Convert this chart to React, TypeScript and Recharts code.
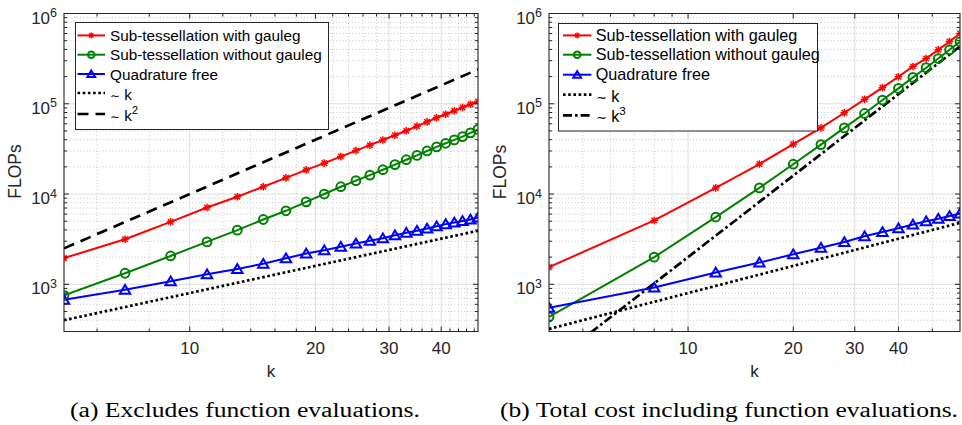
import React from 'react';
import { LineChart, Line, XAxis, YAxis, CartesianGrid, ReferenceArea } from 'recharts';

// ---------------- data: panel (a) ----------------
const kA = [5, 7, 9, 11, 13, 15, 17, 19, 21, 23, 25, 27, 29, 31, 33, 35, 37, 39, 41, 43, 45, 47, 49];
const withGaulegA = [1950, 3160, 4920, 7100, 9330, 12050, 15100, 18500, 22000, 26000, 30300, 34800, 39700, 44800, 50200, 56500, 63000, 70000, 76500, 83500, 91000, 99000, 106000];
const withoutGaulegA = [755, 1325, 2060, 2950, 3980, 5220, 6520, 8200, 10000, 12050, 14060, 16200, 18600, 21200, 24000, 26800, 30000, 33300, 36500, 39800, 43300, 47600, 52000];
const quadFreeA = [675, 871, 1080, 1290, 1480, 1690, 1945, 2190, 2390, 2600, 2830, 3030, 3240, 3500, 3720, 3910, 4150, 4400, 4640, 4830, 5040, 5220, 5500];
const refKA = [5, 49];
const linRefA = [400, 3920];
const quadRefA = [2500, 240000];

// ---------------- data: panel (b) ----------------
const kB = [4, 8, 12, 16, 20, 24, 28, 32, 36, 40, 44, 48, 52, 56, 60];
const withGaulegB = [1550, 5100, 11700, 21500, 35700, 54000, 79500, 112000, 151000, 199000, 259000, 317000, 396000, 490000, 600000];
const withoutGaulegB = [435, 2000, 5560, 11700, 21400, 35300, 54000, 78000, 110000, 148000, 196000, 251000, 317000, 396000, 486000];
const quadFreeB = [550, 920, 1350, 1740, 2150, 2540, 2940, 3400, 3800, 4170, 4600, 4990, 5330, 5710, 6100];
const refKB = [4, 60];
const linRefB = [320, 4800];
const cubRefB = [128, 432000];

// ---------------- ticks / labels ----------------
const xDomainA = [5, 49];
const xDomainB = [4, 60];
const yDomain = [300, 1000000];
const xMajor = [10, 20, 30, 40];
const xMinorA = [6, 8, 12, 14, 16, 18, 22, 24, 26, 28, 32, 34, 36, 38, 42, 44, 46, 48];
const xMinorB = [5, 6, 7, 8, 9, 50];
const yMajorGrid = [1000, 10000, 100000];
const yMajorTicks = [1000, 10000, 100000, 1000000];
const yMinor = [400, 500, 600, 700, 800, 900, 2000, 3000, 4000, 5000, 6000, 7000, 8000, 9000,
  20000, 30000, 40000, 50000, 60000, 70000, 80000, 90000, 200000, 300000, 400000, 500000, 600000, 700000, 800000, 900000];
const seriesNames = ['Sub-tessellation with gauleg', 'Sub-tessellation without gauleg', 'Quadrature free'];
const captionA = '(a)  Excludes function evaluations.';
const captionB = '(b)  Total cost including function evaluations.';

const FONT = '"Liberation Sans", Arial, Helvetica, sans-serif';
const SERIF = '"Liberation Serif", "Times New Roman", serif';
const INK = '#262626';
const RED = '#ff0000';
const GREEN = '#008000';
const BLUE = '#0000ff';

// layout constants
const CH = 425;
const M_TOP = 12.5;
const TOP_AX = 1;
const M_BOTTOM = 33.5;
const BOTTOM_AX = 60;
const PLOT_TOP = M_TOP + TOP_AX;
const PLOT_BOTTOM = CH - M_BOTTOM - BOTTOM_AX;

const isPow10 = (v: number) => {
  const l = Math.log10(v);
  return Math.abs(l - Math.round(l)) < 1e-9;
};

const applyScale = (s: any, v: number): number => {
  if (!s) return NaN;
  if (typeof s === 'function') return s(v);
  if (typeof s.map === 'function') return s.map(v);
  if (typeof s.scale === 'function') return s.scale(v);
  return NaN;
};

type Kind = 'star' | 'circle' | 'tri';

function Marker({ kind, cx, cy, color, s = 1 }: { kind: Kind; cx: number; cy: number; color: string; s?: number }) {
  if (cx == null || cy == null || isNaN(cx) || isNaN(cy)) return null;
  if (kind === 'star') {
    const r = 3.8 * s;
    const d = r * 0.72;
    return (
      <g stroke={color} strokeWidth={1.5}>
        <line x1={cx - r} x2={cx + r} y1={cy} y2={cy} />
        <line x1={cx} x2={cx} y1={cy - r} y2={cy + r} />
        <line x1={cx - d} x2={cx + d} y1={cy - d} y2={cy + d} />
        <line x1={cx - d} x2={cx + d} y1={cy + d} y2={cy - d} />
      </g>
    );
  }
  if (kind === 'circle') {
    return <circle cx={cx} cy={cy} r={4.4 * s} fill="none" stroke={color} strokeWidth={2} />;
  }
  const pts = `${cx},${cy - 4.8 * s} ${cx - 5.2 * s},${cy + 4 * s} ${cx + 5.2 * s},${cy + 4 * s}`;
  return <polygon points={pts} fill="none" stroke={color} strokeWidth={2} strokeLinejoin="miter" />;
}

const mkYTick = (side: 'left' | 'right', labels: boolean, xPos: number) => (p: any) => {
  const { y, payload, index } = p;
  const v = payload.value;
  const major = isPow10(v);
  const len = major ? 5 : 3;
  const dir = side === 'left' ? 1 : -1;
  return (
    <g key={`yt-${side}-${index}`}>
      <line x1={xPos} x2={xPos + dir * len} y1={y} y2={y} stroke={INK} strokeWidth={1} />
      {labels && major && (
        <text x={xPos - 7} y={y + 10} textAnchor="end" fontFamily={FONT} fontSize={17} fill={INK}>
          10<tspan dy={-6.5} fontSize={12.5}>{Math.round(Math.log10(v))}</tspan>
        </text>
      )}
    </g>
  );
};

const mkXTick = (side: 'bottom' | 'top', labels: boolean) => (p: any) => {
  const { x, payload, index } = p;
  const v = payload.value;
  const major = xMajor.includes(v);
  const len = major ? 5 : 3;
  const y = side === 'bottom' ? PLOT_BOTTOM : PLOT_TOP;
  const dir = side === 'bottom' ? -1 : 1;
  return (
    <g key={`xt-${side}-${index}`}>
      <line x1={x} x2={x} y1={y} y2={y + dir * len} stroke={INK} strokeWidth={1} />
      {labels && major && (
        <text x={x} y={y + 22.5} textAnchor="middle" fontFamily={FONT} fontSize={17} fill={INK}>
          {v}
        </text>
      )}
    </g>
  );
};

type RefSpec = { label: string; sup?: string; k: number[]; v: number[]; dash: string; clip?: boolean };

type PanelProps = {
  left: number;
  width: number;
  yAxisWidth: number;
  marginRight: number;
  ks: number[];
  values: number[][];
  refs: RefSpec[];
  xDomain: number[];
  xMinor: number[];
  legend: { x: number; y: number; w: number; h: number; font: number; sx1: number; sx2: number; tx: number; rows: number[] };
};

const kinds: Kind[] = ['star', 'circle', 'tri'];
const colors = [RED, GREEN, BLUE];

function Panel(props: PanelProps) {
  const { left, width, yAxisWidth, marginRight, ks, values, refs, xDomain, xMinor, legend } = props;
  const xTicks = [...xMinor, ...xMajor].filter((v) => v >= xDomain[0] && v <= xDomain[1]).sort((a, b) => a - b);
  const yTicks = [...yMinor, ...yMajorTicks].sort((a, b) => a - b);
  const xGridMinor = xMinor.filter((v) => v > xDomain[0] && v < xDomain[1]);
  const seriesData = values.map((vals) => ks.map((k, i) => ({ k, v: vals[i] })));
  const refData = refs.map((r) => r.k.map((k, i) => ({ k, v: r.v[i] })));
  const plotLeft = yAxisWidth;
  const plotRight = width - marginRight - 1;

  const hGen = (vals: number[]) => (a: any) =>
    vals.map((v) => applyScale(a && a.yAxis && a.yAxis.scale, v)).filter((n) => Number.isFinite(n));
  const vGen = (vals: number[]) => (a: any) =>
    vals.map((v) => applyScale(a && a.xAxis && a.xAxis.scale, v)).filter((n) => Number.isFinite(n));

  return (
    <div style={{ position: 'absolute', left, top: 0, width, height: CH }}>
      <LineChart width={width} height={CH} margin={{ top: M_TOP, right: marginRight, bottom: M_BOTTOM, left: 0 }}>
        <XAxis xAxisId="b" dataKey="k" type="number" scale="log" domain={xDomain} ticks={xTicks} interval={0}
          tickSize={0} tickMargin={0} height={BOTTOM_AX} tickLine={false} axisLine={false}
          tick={mkXTick('bottom', true)} allowDataOverflow />
        <XAxis xAxisId="t" orientation="top" dataKey="k" type="number" scale="log" domain={xDomain} ticks={xTicks} interval={0}
          tickSize={0} tickMargin={0} height={TOP_AX} tickLine={false} axisLine={false}
          tick={mkXTick('top', false)} allowDataOverflow />
        <YAxis yAxisId="l" type="number" scale="log" domain={yDomain} ticks={yTicks} interval={0}
          tickSize={0} tickMargin={0} width={yAxisWidth} tickLine={false} axisLine={false}
          tick={mkYTick('left', true, plotLeft)} />
        <YAxis yAxisId="r" orientation="right" type="number" scale="log" domain={yDomain} ticks={yTicks} interval={0}
          tickSize={0} tickMargin={0} width={1} tickLine={false} axisLine={false}
          tick={mkYTick('right', false, plotRight)} allowDataOverflow />
        <YAxis yAxisId="c" type="number" scale="log" domain={yDomain} hide allowDataOverflow />
        <CartesianGrid xAxisId="b" yAxisId="l" stroke="#c8c8c8" strokeDasharray="1 2.2" fill="none"
          horizontalCoordinatesGenerator={hGen(yMinor)} verticalCoordinatesGenerator={vGen(xGridMinor)} />
        <CartesianGrid xAxisId="b" yAxisId="l" stroke="#dddddd" fill="none"
          horizontalCoordinatesGenerator={hGen(yMajorGrid)} verticalCoordinatesGenerator={vGen(xMajor)} />
        <ReferenceArea xAxisId="b" yAxisId="l" x1={xDomain[0]} x2={xDomain[1]} y1={yDomain[0]} y2={yDomain[1]}
          fill="none" fillOpacity={0} stroke={INK} strokeWidth={1.1} ifOverflow="visible" />
        {refs.map((r, i) => (
          <Line key={`ref${i}`} xAxisId="b" yAxisId={r.clip ? 'c' : 'l'} data={refData[i]} dataKey="v" type="linear"
            stroke="#000" strokeWidth={2.7} strokeDasharray={r.dash} dot={false} isAnimationActive={false} />
        ))}
        {seriesData.map((d, si) => (
          <Line key={`s${si}`} xAxisId="b" yAxisId="l" data={d} dataKey="v" type="linear" name={seriesNames[si]}
            stroke={colors[si]} strokeWidth={2} isAnimationActive={false}
            dot={(p: any) => <Marker key={`m${si}-${p.index}`} kind={kinds[si]} cx={p.cx} cy={p.cy} color={colors[si]} />}
            activeDot={false} />
        ))}
      </LineChart>
      <svg style={{ position: 'absolute', left: legend.x - left, top: legend.y, overflow: 'visible' }} width={legend.w} height={legend.h}>
        <rect x={0.5} y={0.5} width={legend.w - 1} height={legend.h - 1} fill="#fff" stroke={INK} strokeWidth={1} />
        {seriesNames.map((n, i) => {
          const yy = legend.rows[i];
          return (
            <g key={n}>
              <line x1={legend.sx1} x2={legend.sx2} y1={yy} y2={yy} stroke={colors[i]} strokeWidth={2} />
              <Marker kind={kinds[i]} cx={(legend.sx1 + legend.sx2) / 2} cy={yy} color={colors[i]} s={0.75} />
              <text x={legend.tx} y={yy + 5.6} fontFamily={FONT} fontSize={legend.font} fill="#000">{n}</text>
            </g>
          );
        })}
        {refs.map((r, i) => {
          const yy = legend.rows[3 + i];
          return (
            <g key={r.label + i}>
              <line x1={legend.sx1} x2={legend.sx2} y1={yy} y2={yy} stroke="#000" strokeWidth={2.7} strokeDasharray={r.dash} />
              <text x={legend.tx} y={yy + 7} fontFamily={FONT} fontSize={legend.font} fill="#000">
                <tspan fontSize={legend.font * 0.8}>∼</tspan> {r.label}
                {r.sup && <tspan dy={-7} fontSize={legend.font * 0.72}>{r.sup}</tspan>}
              </text>
            </g>
          );
        })}
      </svg>
    </div>
  );
}

export default function App() {
  const refsA: RefSpec[] = [
    { label: 'k', k: refKA, v: linRefA, dash: '2.6 2.6' },
    { label: 'k', sup: '2', k: refKA, v: quadRefA, dash: '11 7' },
  ];
  const refsB: RefSpec[] = [
    { label: 'k', k: refKB, v: linRefB, dash: '2.6 2.6' },
    { label: 'k', sup: '3', k: refKB, v: cubRefB, dash: '9 3 2.6 3', clip: true },
  ];
  return (
    <div style={{ position: 'absolute', left: 0, top: 0, width: 962, height: 425, background: '#fff', overflow: 'hidden' }}>
      <Panel left={0} width={490} yAxisWidth={64} marginRight={11} ks={kA}
        values={[withGaulegA, withoutGaulegA, quadFreeA]} refs={refsA} xDomain={xDomainA} xMinor={xMinorA}
        legend={{ x: 75, y: 22.3, w: 254, h: 108, font: 15.3, sx1: 2.5, sx2: 30, tx: 35, rows: [13.4, 32.7, 52, 71, 92] }} />
      <Panel left={480} width={482} yAxisWidth={69} marginRight={1} ks={kB}
        values={[withGaulegB, withoutGaulegB, quadFreeB]} refs={refsB} xDomain={xDomainB} xMinor={xMinorB}
        legend={{ x: 558.3, y: 23.3, w: 260, h: 108.5, font: 16.2, sx1: 5, sx2: 33.4, tx: 37.7, rows: [12.4, 31.7, 51.7, 71.7, 92.4] }} />
      <svg style={{ position: 'absolute', left: 0, top: 0, pointerEvents: 'none' }} width={962} height={425}>
        <text transform="translate(20.5,171.5) rotate(-90)" textAnchor="middle" fontFamily={FONT} fontSize={17.5} fill={INK}>FLOPs</text>
        <text transform="translate(505.5,172) rotate(-90)" textAnchor="middle" fontFamily={FONT} fontSize={17.5} fill={INK}>FLOPs</text>
        <text x={271} y={376.7} textAnchor="middle" fontFamily={FONT} fontSize={17} fill={INK}>k</text>
        <text x={754.5} y={376.7} textAnchor="middle" fontFamily={FONT} fontSize={17} fill={INK}>k</text>
        <text x={70} y={417} fontFamily={SERIF} fontSize={20} fill="#000" textLength={350} lengthAdjust="spacingAndGlyphs">{captionA}</text>
        <text x={500} y={417} fontFamily={SERIF} fontSize={20} fill="#000" textLength={458} lengthAdjust="spacingAndGlyphs">{captionB}</text>
      </svg>
    </div>
  );
}
